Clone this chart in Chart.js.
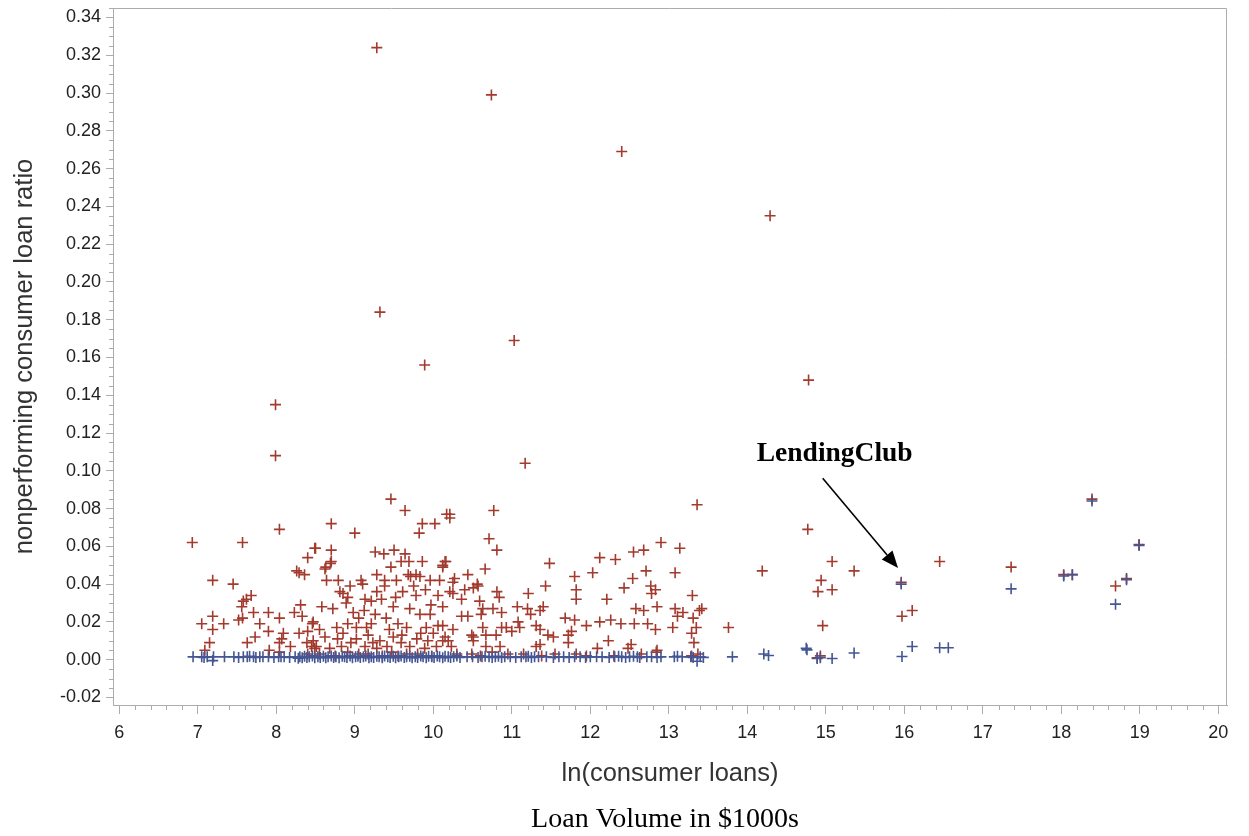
<!DOCTYPE html>
<html>
<head>
<meta charset="utf-8">
<script src="https://cdn.jsdelivr.net/npm/chart.js@4.4.0/dist/chart.umd.min.js"></script>
<style>
  html, body { margin: 0; padding: 0; background: #fff; }
</style>
</head>
<body>
<canvas id="chart" width="1249" height="836"></canvas>
<script>
// nonperforming ratio (red) and the second ratio (blue) against ln(consumer loans)
const redPoints = [
  [9.28,0.324],[10.74,0.299],[12.40,0.269],[14.29,0.235],[9.32,0.184],[11.03,0.169],[9.89,0.156],
  [14.78,0.148],[7.99,0.135],[7.99,0.108],[11.17,0.104],[9.46,0.085],[13.36,0.082],[10.77,0.079],
  [9.64,0.079],[14.77,0.069],[8.04,0.069],[6.93,0.062],[7.57,0.062],[8.70,0.072],
  [18.39,0.085],[18.99,0.061],[16.45,0.052],[17.36,0.049],[18.03,0.045],[18.14,0.045],[18.69,0.039],
  [18.83,0.043],[15.96,0.041],[15.97,0.023],[16.10,0.026],[15.36,0.047],[15.08,0.052],[14.94,0.042],
  [14.90,0.036],[15.08,0.037],[14.96,0.018],[14.19,0.047],[13.39,0.026],[13.76,0.017],[14.89,0.001],[14.93,0.002],
  [8.49,0.059],[8.40,0.054],[8.26,0.047],[8.36,0.045],[8.29,0.046],[7.19,0.042],[7.45,0.040],[7.68,0.034],
  [7.62,0.032],[7.58,0.031],[7.56,0.028],[7.71,0.025],[7.90,0.025],[8.04,0.022],[8.23,0.025],[8.31,0.029],
  [8.33,0.023],[7.19,0.023],[7.05,0.019],[7.33,0.019],[7.52,0.021],[7.57,0.022],[7.19,0.016],[7.79,0.019],
  [7.90,0.015],[8.09,0.014],[8.29,0.014],[8.46,0.019],[8.40,0.015],[7.73,0.012],[7.63,0.009],[7.15,0.009],
  [7.09,0.005],[8.07,0.011],[8.04,0.009],[8.18,0.007],[7.91,0.005],[8.04,0.004],[8.39,0.009],[8.45,0.007],
  [8.49,0.006],[8.40,0.003],
  [8.50,0.059],[8.70,0.058],[8.70,0.052],[8.62,0.048],[9.00,0.067],[9.86,0.072],[10.02,0.072],[9.82,0.067],
  [10.17,0.077],[9.26,0.057],[9.37,0.056],[9.50,0.058],[9.64,0.056],[9.59,0.052],[9.69,0.052],[9.86,0.052],
  [9.46,0.049],[10.16,0.052],[8.64,0.042],[8.79,0.042],[9.08,0.042],[9.28,0.045],[9.38,0.042],[9.68,0.045],
  [9.78,0.045],[9.96,0.042],[10.08,0.042],[9.28,0.036],[9.61,0.036],[9.78,0.034],[9.90,0.037],[10.06,0.034],
  [8.85,0.035],[8.91,0.033],[9.13,0.032],[8.58,0.028],[8.72,0.027],[8.98,0.025],[9.21,0.031],[9.34,0.032],
  [9.49,0.028],[9.70,0.027],[9.83,0.024],[9.96,0.024],[10.12,0.028],[8.47,0.020],[8.77,0.017],[8.91,0.019],
  [9.15,0.017],[9.21,0.019],[9.40,0.022],[9.55,0.019],[9.66,0.017],[9.91,0.017],[10.06,0.018],[8.62,0.012],
  [8.85,0.014],[9.02,0.011],[9.17,0.013],[9.32,0.010],[9.49,0.012],[9.59,0.009],[9.79,0.011],[9.93,0.010],
  [10.12,0.010],[8.51,0.007],[8.68,0.006],[8.83,0.007],[9.13,0.007],[9.28,0.006],[9.70,0.007],[9.89,0.006],
  [10.04,0.007],[8.91,0.004],[9.17,0.003],[9.47,0.004],[9.66,0.003],[8.47,0.010],[8.94,0.039],[8.89,0.030],
  [9.38,0.039],[9.53,0.042],[9.75,0.039],[8.63,0.049],[8.69,0.051],[9.10,0.040],[8.81,0.036],[9.71,0.044],
  [9.83,0.044],[10.12,0.049],
  [9.05,0.022],[9.26,0.024],[9.12,0.026],[9.44,0.016],[9.60,0.013],[9.02,0.017],[8.95,0.009],[9.23,0.009],
  [9.41,0.007],[9.84,0.014],[10.00,0.014],[8.78,0.011],[8.55,0.016],[9.52,0.033],[9.97,0.029],
  [10.21,0.077],[10.21,0.075],[10.71,0.064],[10.81,0.058],[10.15,0.052],[10.12,0.050],[10.66,0.048],
  [10.44,0.045],[10.27,0.043],[10.25,0.041],[10.56,0.040],[10.51,0.038],[10.40,0.037],[10.21,0.036],
  [10.25,0.035],[10.81,0.036],[10.84,0.033],[11.21,0.035],[11.43,0.039],[11.48,0.051],[11.80,0.044],
  [11.82,0.037],[11.82,0.032],[10.36,0.032],[10.59,0.031],[10.63,0.027],[10.61,0.024],[10.76,0.027],
  [10.87,0.025],[11.07,0.028],[11.20,0.027],[11.24,0.024],[11.36,0.026],[11.40,0.028],[11.68,0.022],
  [11.80,0.021],[10.36,0.023],[10.44,0.023],[10.12,0.018],[10.25,0.016],[10.49,0.013],[10.51,0.012],
  [10.63,0.017],[10.87,0.017],[10.93,0.017],[11.08,0.020],[11.10,0.017],[11.00,0.015],[11.31,0.018],
  [11.36,0.016],[11.46,0.013],[11.53,0.012],[11.72,0.013],[10.67,0.013],[10.80,0.013],[10.15,0.012],
  [10.19,0.010],[10.51,0.010],[11.31,0.007],[11.36,0.008],[10.67,0.007],[10.85,0.007],[11.72,0.009],
  [10.23,0.007],[10.49,0.003],[10.95,0.003],[11.38,0.002],[10.57,0.039],
  [12.90,0.062],[13.14,0.059],[12.68,0.058],[12.55,0.057],[12.32,0.053],[12.12,0.054],[12.03,0.046],
  [12.71,0.047],[12.54,0.043],[13.08,0.046],[12.43,0.038],[12.77,0.039],[12.83,0.037],[12.78,0.035],
  [13.30,0.034],[12.21,0.032],[12.58,0.027],[12.68,0.026],[12.85,0.028],[13.08,0.027],[13.18,0.025],
  [13.42,0.027],[13.11,0.023],[13.31,0.022],[11.95,0.018],[12.12,0.020],[12.26,0.021],[12.39,0.019],
  [12.56,0.019],[12.73,0.019],[12.83,0.016],[13.05,0.017],[13.35,0.017],[13.29,0.014],[13.32,0.009],
  [12.23,0.010],[12.52,0.008],[12.48,0.006],[12.09,0.006],[12.85,0.005],[11.76,0.015],[13.29,0.002],
  [13.37,0.003],[11.82,0.003],[12.84,0.004],
  [8.55,0.003],[8.75,0.002],[9.05,0.003],[9.35,0.002],[9.55,0.002],[9.80,0.003],[9.98,0.002],[10.30,0.003],
  [10.60,0.002],[10.75,0.004],[11.15,0.003],[11.55,0.003],[11.95,0.002],[12.30,0.002],[12.65,0.003]
];

const bluePoints = [
  [6.94,0.0015],[7.05,0.0015],[7.08,0.0012],[7.12,0.0015],[7.19,-0.0005],[7.20,0.0015],[7.34,0.0015],
  [7.46,0.0015],[7.52,0.0012],[7.58,0.0015],[7.63,0.0015],[7.66,0.0018],[7.71,0.0015],[7.74,0.0012],
  [7.79,0.0015],[7.83,0.0015],[7.90,0.0015],[7.97,0.0012],[8.03,0.0015],[8.06,0.0015],[8.10,0.0015],
  [8.17,0.0012],[8.24,0.0015],[8.28,0.0008],
  [8.30,0.0015],[8.33,0.0010],[8.36,0.0018],[8.39,0.0012],[8.42,0.0015],[8.46,0.0020],[8.49,0.0010],
  [8.53,0.0015],[8.56,0.0012],[8.60,0.0018],[8.63,0.0010],[8.66,0.0015],[8.70,0.0020],[8.73,0.0012],
  [8.76,0.0015],[8.80,0.0010],[8.84,0.0018],[8.87,0.0015],[8.90,0.0012],[8.94,0.0020],[8.97,0.0010],
  [9.01,0.0015],[9.04,0.0018],[9.07,0.0012],[9.11,0.0015],[9.14,0.0020],[9.18,0.0010],[9.21,0.0015],
  [9.24,0.0012],[9.28,0.0018],[9.31,0.0015],[9.35,0.0010],[9.38,0.0020],[9.42,0.0015],[9.45,0.0012],
  [9.49,0.0018],[9.52,0.0010],[9.56,0.0015],[9.59,0.0020],[9.63,0.0012],[9.66,0.0015],[9.70,0.0018],
  [9.73,0.0010],[9.77,0.0015],[9.80,0.0012],[9.84,0.0020],[9.87,0.0015],[9.91,0.0010],[9.94,0.0018],
  [9.98,0.0015],[10.01,0.0012],[10.05,0.0020],[10.08,0.0015],[10.12,0.0010],[10.15,0.0018],[10.19,0.0015],
  [10.22,0.0012],[10.26,0.0015],[10.30,0.0020],[10.34,0.0012],
  [10.43,0.0015],[10.50,0.0015],[10.57,0.0012],[10.62,0.0015],[10.66,0.0018],[10.71,0.0015],[10.75,0.0012],
  [10.79,0.0015],[10.83,0.0018],[10.87,0.0012],[10.91,0.0015],[10.98,0.0015],[11.05,0.0012],[11.12,0.0015],
  [11.18,0.0015],[11.21,0.0018],[11.25,0.0012],[11.29,0.0015],[11.34,0.0015],[11.44,0.0015],[11.53,0.0012],
  [11.60,0.0015],[11.66,0.0015],[11.73,0.0012],[11.80,0.0015],[11.87,0.0015],[11.94,0.0012],[12.00,0.0015],
  [12.08,0.0015],[12.15,0.0015],[12.24,0.0012],[12.31,0.0015],[12.36,0.0018],[12.40,0.0015],[12.45,0.0012],
  [12.50,0.0015],[12.55,0.0018],[12.60,0.0015],[12.63,0.0012],[12.72,0.0015],[12.78,0.0015],[12.85,0.0012],
  [12.90,0.0015],[13.07,0.0015],[13.11,0.0018],[13.17,0.0015],[13.28,0.0015],[13.31,0.0012],[13.36,-0.0008],
  [13.40,0.0015],[13.44,0.0012],[13.81,0.0015],[14.21,0.0030],[14.27,0.0022],[14.75,0.0060],[14.76,0.0052],
  [14.89,0.0006],[14.93,0.0010],[15.08,0.0006],[15.36,0.0035],[15.96,0.0400],[15.97,0.0017],[16.10,0.0070],
  [16.45,0.0063],[16.56,0.0063],[17.36,0.0375],[18.03,0.0443],[18.14,0.0450],[18.39,0.0840],[18.69,0.0294],
  [18.83,0.0423],[18.99,0.0605]
];

const xRange = [5.92, 20.11];
const yRange = [-0.024, 0.345];
const xTitle = 'ln(consumer loans)';
const yTitle = 'nonperforming consumer loan ratio';
const caption = 'Loan Volume in $1000s';
// annotation: label and arrow anchored in data units
const note = { text: 'LendingClub', at: [14.12, 0.105], from: [14.96, 0.096], to: [15.92, 0.0485] };

const axisGray = '#a9acb0';
const sansFont = "'Liberation Sans', Arial, sans-serif";
const serifFont = "'Liberation Serif', 'Times New Roman', serif";

const toXY = pts => pts.map(p => ({ x: p[0], y: p[1] }));

const extras = {
  id: 'extras',
  afterDraw(chart) {
    const { ctx, chartArea: a, scales: { x, y } } = chart;
    ctx.save();
    ctx.strokeStyle = axisGray;
    ctx.lineWidth = 1;
    // top/right frame
    ctx.beginPath();
    ctx.moveTo(a.left, a.top + 0.5);
    ctx.lineTo(a.right - 0.5, a.top + 0.5);
    ctx.lineTo(a.right - 0.5, a.bottom);
    ctx.stroke();
    // minor ticks
    ctx.beginPath();
    for (let i = 30; i <= 100; i++) {
      if (i % 5 === 0) continue;
      const px = Math.round(x.getPixelForValue(i / 5)) + 0.5;
      ctx.moveTo(px, a.bottom);
      ctx.lineTo(px, a.bottom + 5);
    }
    for (let i = -4; i <= 69; i++) {
      if (i % 4 === 0) continue;
      const py = Math.round(y.getPixelForValue(i * 0.005)) + 0.5;
      ctx.moveTo(a.left, py);
      ctx.lineTo(a.left - 4, py);
    }
    ctx.stroke();

    // annotation
    const x0 = x.getPixelForValue(note.from[0]), y0 = y.getPixelForValue(note.from[1]);
    const x1 = x.getPixelForValue(note.to[0]), y1 = y.getPixelForValue(note.to[1]);
    const ang = Math.atan2(y1 - y0, x1 - x0);
    const head = 17, half = 7;
    const bx = x1 - head * Math.cos(ang), by = y1 - head * Math.sin(ang);
    ctx.strokeStyle = '#000';
    ctx.fillStyle = '#000';
    ctx.lineWidth = 1.6;
    ctx.beginPath();
    ctx.moveTo(x0, y0);
    ctx.lineTo(bx, by);
    ctx.stroke();
    ctx.beginPath();
    ctx.moveTo(x1, y1);
    ctx.lineTo(bx + half * Math.sin(ang), by - half * Math.cos(ang));
    ctx.lineTo(bx - half * Math.sin(ang), by + half * Math.cos(ang));
    ctx.closePath();
    ctx.fill();
    ctx.font = 'bold 27.5px ' + serifFont;
    ctx.textAlign = 'left';
    ctx.textBaseline = 'alphabetic';
    ctx.fillText(note.text, x.getPixelForValue(note.at[0]), y.getPixelForValue(note.at[1]));

    // caption under the axis title
    ctx.font = '28px ' + serifFont;
    ctx.textAlign = 'center';
    ctx.textBaseline = 'middle';
    ctx.fillStyle = '#000';
    ctx.fillText(caption, (a.left + a.right) / 2 - 5, chart.height - 16);
    ctx.restore();
  }
};

new Chart(document.getElementById('chart'), {
  type: 'scatter',
  data: {
    datasets: [
      {
        label: 'blue',
        data: toXY(bluePoints),
        pointStyle: 'cross',
        pointRadius: 5.5,
        pointBorderWidth: 1.6,
        borderColor: '#445694',
        backgroundColor: '#445694'
      },
      {
        label: 'red',
        data: toXY(redPoints),
        pointStyle: 'cross',
        pointRadius: 5.5,
        pointBorderWidth: 1.6,
        borderColor: '#a23a2e',
        backgroundColor: '#a23a2e'
      }
    ]
  },
  options: {
    responsive: false,
    animation: false,
    devicePixelRatio: 1,
    layout: { padding: { top: 8, right: 22, bottom: 36, left: 0 } },
    plugins: { legend: { display: false }, tooltip: { enabled: false } },
    scales: {
      x: {
        type: 'linear',
        min: xRange[0],
        max: xRange[1],
        afterFit: s => { s.height = 95; s.paddingLeft = 0; s.paddingRight = 0; },
        grid: { drawOnChartArea: false, tickLength: 9, color: axisGray },
        border: { color: axisGray },
        ticks: {
          stepSize: 1,
          includeBounds: false,
          padding: 8,
          color: '#222',
          font: { family: sansFont, size: 18 },
          callback: v => String(v)
        },
        title: {
          display: true,
          text: xTitle,
          color: '#333',
          font: { family: sansFont, size: 25.5 },
          padding: { top: 0, bottom: 11 }
        }
      },
      y: {
        type: 'linear',
        min: yRange[0],
        max: yRange[1],
        afterFit: s => { s.width = 113; s.paddingTop = 0; s.paddingBottom = 0; },
        grid: { drawOnChartArea: false, tickLength: 7, color: axisGray },
        border: { color: axisGray },
        ticks: {
          stepSize: 0.02,
          includeBounds: false,
          padding: 5,
          color: '#222',
          font: { family: sansFont, size: 18 },
          callback: v => Number(v).toFixed(2)
        },
        title: {
          display: true,
          text: yTitle,
          color: '#333',
          font: { family: sansFont, size: 25.5 },
          padding: { top: 10, bottom: 0 }
        }
      }
    }
  },
  plugins: [extras]
});
</script>
</body>
</html>
